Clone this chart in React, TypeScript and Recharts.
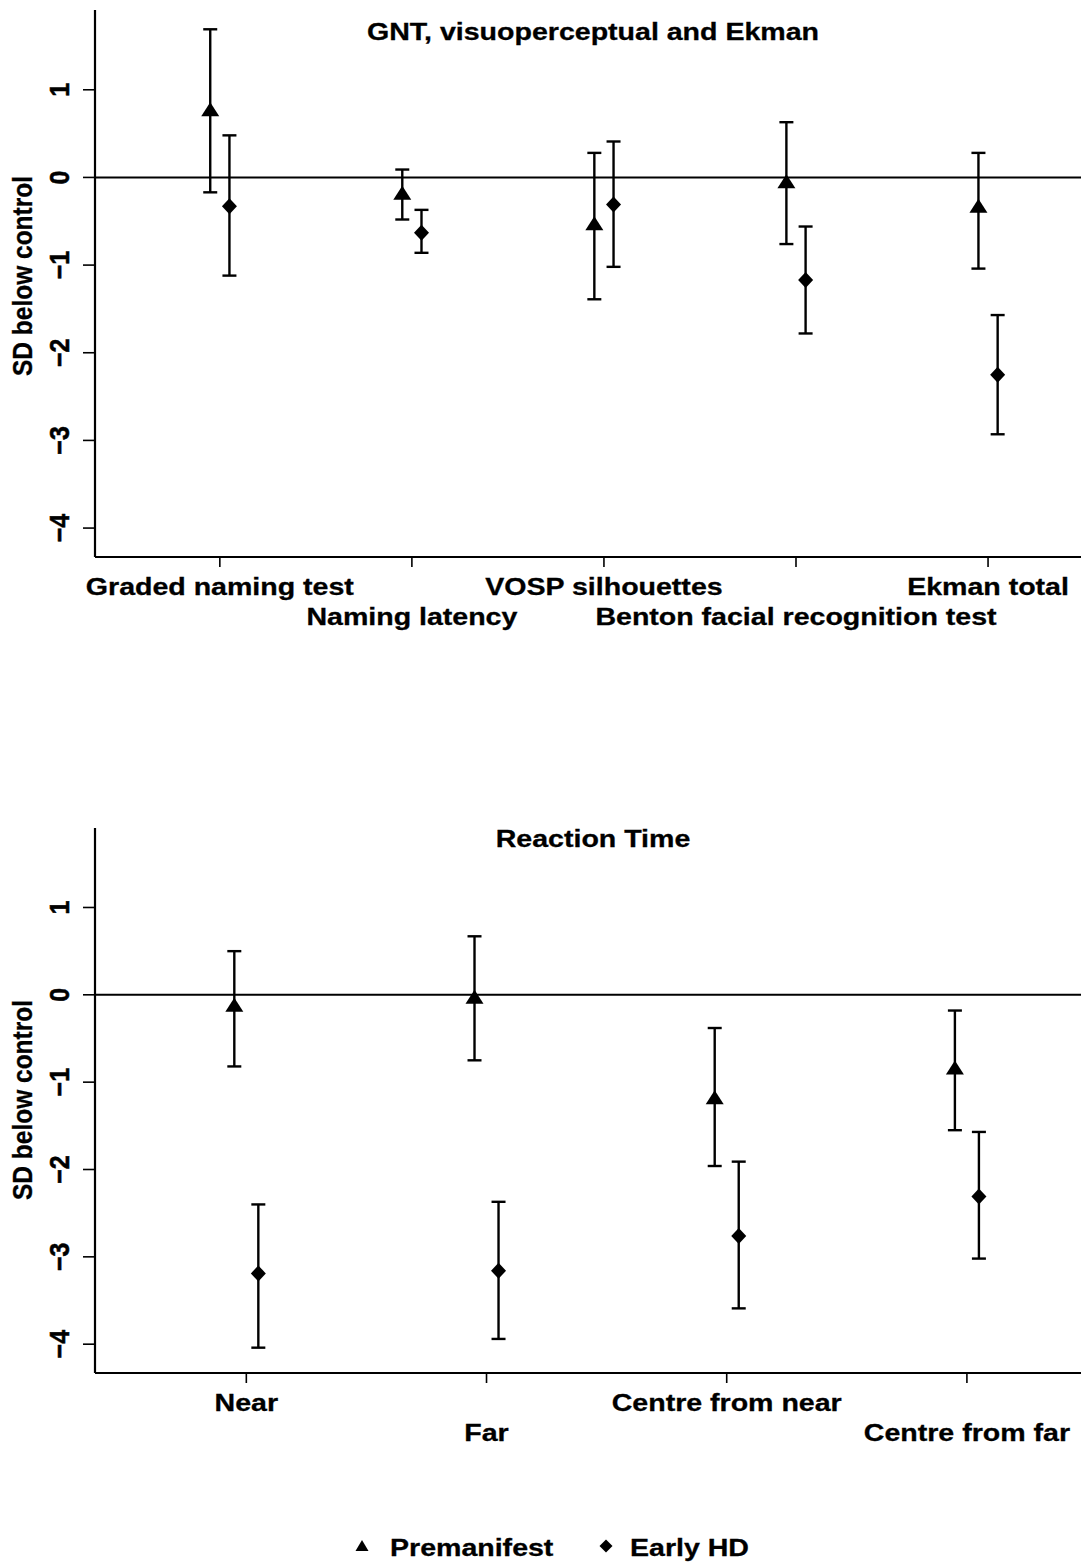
import React from 'react';
import { ScatterChart, Scatter, ErrorBar, XAxis, YAxis, ReferenceLine, Customized } from 'recharts';

const FONT = '"Liberation Sans", Arial, Helvetica, sans-serif';
const SX = 1.19;

// ---- Panel 1: GNT, visuoperceptual and Ekman ----
const topTitle = 'GNT, visuoperceptual and Ekman';
const topCategories = ['Graded naming test', 'Naming latency', 'VOSP silhouettes', 'Benton facial recognition test', 'Ekman total'];
const topPreMean = [0.75, -0.2, -0.55, -0.07, -0.35];
const topPreLow = [-0.17, -0.48, -1.39, -0.76, -1.04];
const topPreHigh = [1.69, 0.09, 0.28, 0.63, 0.28];
const topEarlyMean = [-0.33, -0.63, -0.31, -1.17, -2.25];
const topEarlyLow = [-1.12, -0.86, -1.02, -1.78, -2.93];
const topEarlyHigh = [0.48, -0.37, 0.41, -0.56, -1.57];

// ---- Panel 2: Reaction Time ----
const botTitle = 'Reaction Time';
const botCategories = ['Near', 'Far', 'Centre from near', 'Centre from far'];
const botPreMean = [-0.14, -0.05, -1.2, -0.86];
const botPreLow = [-0.82, -0.75, -1.96, -1.55];
const botPreHigh = [0.5, 0.67, -0.38, -0.18];
const botEarlyMean = [-3.19, -3.16, -2.76, -2.31];
const botEarlyLow = [-4.04, -3.94, -3.59, -3.02];
const botEarlyHigh = [-2.4, -2.37, -1.91, -1.57];

const yTicks = [-4, -3, -2, -1, 0, 1];
const seriesNames = ['Premanifest', 'Early HD'];

const DODGE = 0.05;

function buildPoints(cats: string[], mean: number[], lo: number[], hi: number[], offset: number) {
  return cats.map((c, i) => ({
    x: i + 1 + offset,
    y: mean[i],
    err: [mean[i] - lo[i], hi[i] - mean[i]],
    name: c,
  }));
}

const Triangle = (props: any) => {
  const { cx, cy } = props;
  if (cx == null || cy == null) return null;
  const w = 18, h = 14;
  const top = cy - (2 / 3) * h;
  const base = cy + h / 3;
  return <path d={`M${cx},${top} L${cx + w / 2},${base} L${cx - w / 2},${base} Z`} fill="#000" />;
};

const Diamond = (props: any) => {
  const { cx, cy } = props;
  if (cx == null || cy == null) return null;
  const w = 15, h = 16;
  return <path d={`M${cx},${cy - h / 2} L${cx + w / 2},${cy} L${cx},${cy + h / 2} L${cx - w / 2},${cy} Z`} fill="#000" />;
};

const makeXTick = (cats: string[]) => (props: any) => {
  const { x, y, payload } = props;
  const idx = Math.round(payload.value) - 1;
  const row = idx % 2;
  const label = cats[idx] ?? '';
  return (
    <text
      transform={`translate(${x},${y + 26 + row * 30}) scale(${SX},1)`}
      textAnchor="middle"
      fontFamily={FONT}
      fontWeight="bold"
      fontSize={24}
      fill="#000"
      stroke="#000"
      strokeWidth={0.3}
    >
      {label}
    </text>
  );
};

const YTick = (props: any) => {
  const { y, payload } = props;
  const v = payload.value;
  const label = v < 0 ? '\u2212' + Math.abs(v) : String(v);
  return (
    <text
      transform={`translate(68.5,${y}) scale(1.12,1) rotate(-90)`}
      textAnchor="middle"
      fontFamily={FONT}
      fontWeight="bold"
      fontSize={25}
      fill="#000"
      stroke="#000"
      strokeWidth={0.5}
    >
      {label}
    </text>
  );
};

const makeTitle = (title: string, baseline: number) => () => (
  <text
    transform={`translate(593,${baseline}) scale(${SX},1)`}
    textAnchor="middle"
    fontFamily={FONT}
    fontWeight="bold"
    fontSize={24}
    fill="#000"
    stroke="#000"
    strokeWidth={0.3}
  >
    {title}
  </text>
);

const makeYLabel = (center: number) => () => (
  <text
    transform={`translate(32,${center}) scale(1.1,1) rotate(-90)`}
    textAnchor="middle"
    fontFamily={FONT}
    fontWeight="bold"
    fontSize={24.5}
    fill="#000"
    stroke="#000"
    strokeWidth={0.3}
  >
    SD below control
  </text>
);

interface PanelProps {
  top: number;
  height: number;
  marginTop: number;
  marginBottom: number;
  cats: string[];
  xDomain: [number, number];
  pre: any[];
  early: any[];
  title: string;
  titleBaseline: number;
  yLabelCenter: number;
}

const Panel = (p: PanelProps) => (
  <div style={{ position: 'absolute', left: 0, top: p.top }}>
    <ScatterChart
      width={1081}
      height={p.height}
      margin={{ top: p.marginTop, right: 0, left: 0, bottom: p.marginBottom }}
    >
      <XAxis
        type="number"
        dataKey="x"
        domain={p.xDomain}
        allowDataOverflow
        ticks={p.cats.map((_, i) => i + 1)}
        interval={0}
        height={80}
        tickSize={10}
        tickMargin={2}
        axisLine={{ stroke: '#000', strokeWidth: 2.2 }}
        tickLine={{ stroke: '#000', strokeWidth: 1.6 }}
        tick={makeXTick(p.cats)}
      />
      <YAxis
        type="number"
        dataKey="y"
        domain={[-4.33, 1.91]}
        allowDataOverflow
        ticks={yTicks}
        interval={0}
        width={95}
        tickSize={12}
        tickMargin={0}
        axisLine={{ stroke: '#000', strokeWidth: 2.2 }}
        tickLine={{ stroke: '#000', strokeWidth: 1.6 }}
        tick={<YTick />}
      />
      <ReferenceLine y={0} stroke="#000" strokeWidth={2} />
      <Scatter name={seriesNames[0]} data={p.pre} shape={<Triangle />} isAnimationActive={false}>
        <ErrorBar dataKey="err" direction="y" width={7} stroke="#000" strokeWidth={2.4} isAnimationActive={false} />
      </Scatter>
      <Scatter name={seriesNames[1]} data={p.early} shape={<Diamond />} isAnimationActive={false}>
        <ErrorBar dataKey="err" direction="y" width={7} stroke="#000" strokeWidth={2.4} isAnimationActive={false} />
      </Scatter>
      <Customized component={makeTitle(p.title, p.titleBaseline)} />
      <Customized component={makeYLabel(p.yLabelCenter)} />
    </ScatterChart>
  </div>
);

const Legend = () => (
  <div style={{ position: 'absolute', left: 0, top: 1520 }}>
    <svg width={1081} height={42}>
      <path d="M362,20 L368.5,31 L355.5,31 Z" fill="#000" />
      <text transform={`translate(390,36) scale(${SX},1)`} fontFamily={FONT} fontWeight="bold" fontSize={24} fill="#000" stroke="#000" strokeWidth={0.3}>
        {seriesNames[0]}
      </text>
      <path d="M606,19.5 L612.5,26 L606,32.5 L599.5,26 Z" fill="#000" />
      <text transform={`translate(630,36) scale(${SX},1)`} fontFamily={FONT} fontWeight="bold" fontSize={24} fill="#000" stroke="#000" strokeWidth={0.3}>
        {seriesNames[1]}
      </text>
    </svg>
  </div>
);

export default function App() {
  const topPre = buildPoints(topCategories, topPreMean, topPreLow, topPreHigh, -DODGE);
  const topEarly = buildPoints(topCategories, topEarlyMean, topEarlyLow, topEarlyHigh, DODGE);
  const botPre = buildPoints(botCategories, botPreMean, botPreLow, botPreHigh, -DODGE);
  const botEarly = buildPoints(botCategories, botEarlyMean, botEarlyLow, botEarlyHigh, DODGE);
  return (
    <div style={{ position: 'absolute', left: 0, top: 0, width: 1081, height: 1562, background: '#fff', overflow: 'hidden' }}>
      <Panel
        top={0}
        height={680}
        marginTop={10}
        marginBottom={43}
        cats={topCategories}
        xDomain={[0.35, 5.484]}
        pre={topPre}
        early={topEarly}
        title={topTitle}
        titleBaseline={40}
        yLabelCenter={276}
      />
      <Panel
        top={800}
        height={700}
        marginTop={28}
        marginBottom={47}
        cats={botCategories}
        xDomain={[0.37, 4.475]}
        pre={botPre}
        early={botEarly}
        title={botTitle}
        titleBaseline={47}
        yLabelCenter={300}
      />
      <Legend />
    </div>
  );
}
